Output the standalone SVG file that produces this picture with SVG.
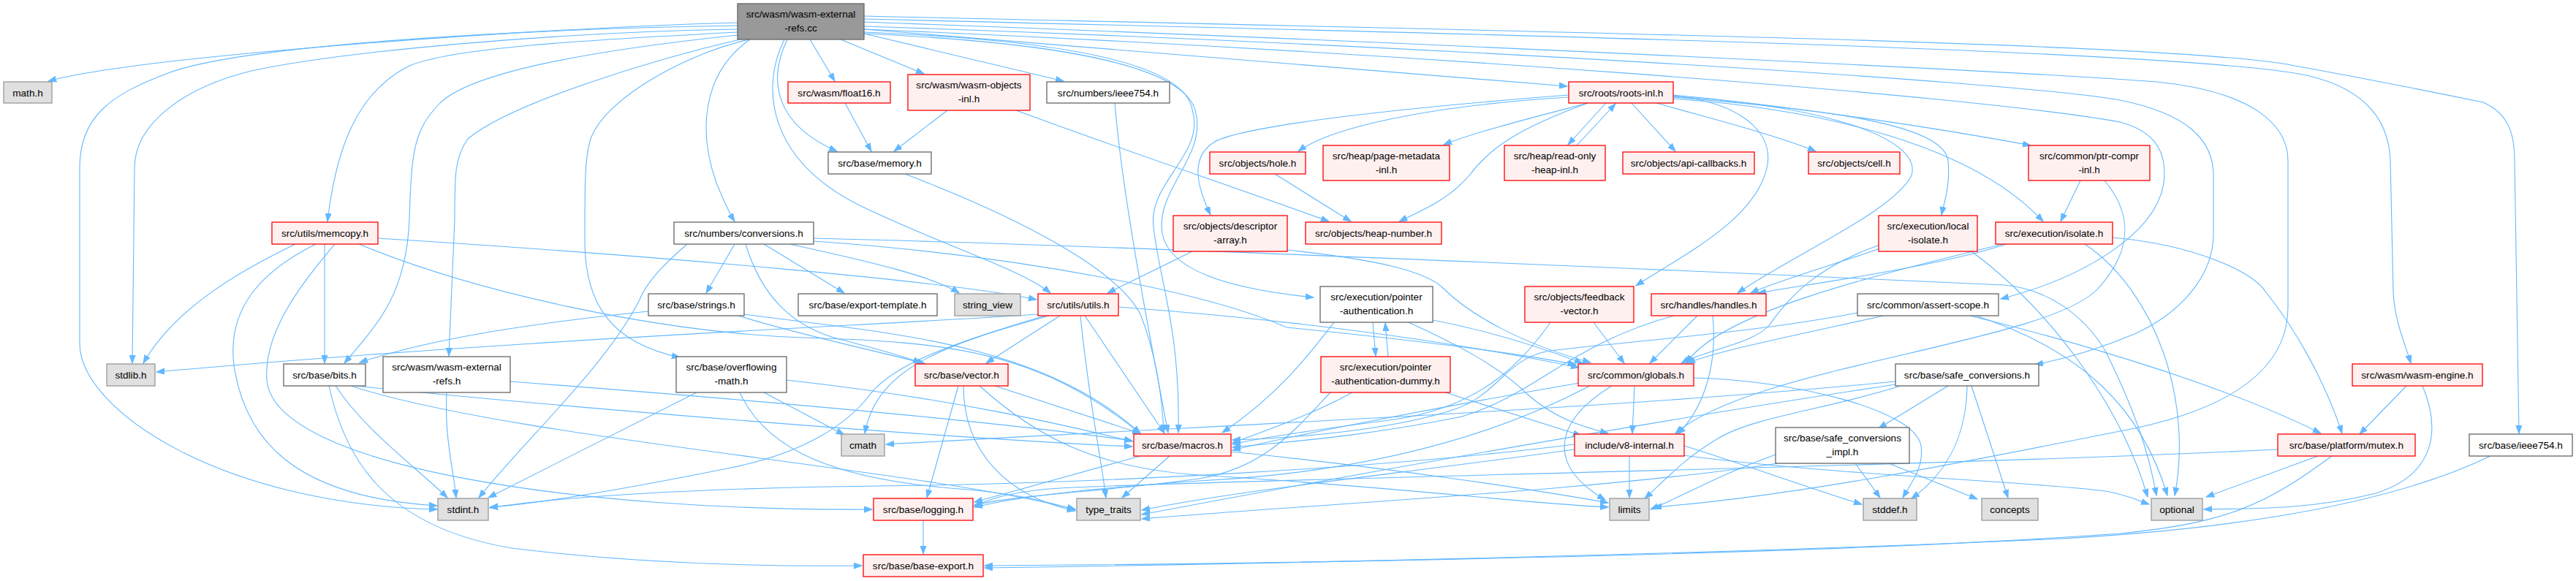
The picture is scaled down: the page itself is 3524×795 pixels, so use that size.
<svg xmlns="http://www.w3.org/2000/svg" width="3524" height="795" viewBox="0 0 3524 795">
<defs>
<marker id="ah" markerWidth="12" markerHeight="10" refX="11" refY="4.5" orient="auto" markerUnits="userSpaceOnUse"><path d="M0,0.5 L11,4.5 L0,8.5 z" fill="#63b8ff" stroke="#63b8ff" stroke-width="1"/></marker>
<style>
.e path{fill:none;stroke:#63b8ff;stroke-width:1.1;marker-end:url(#ah)}
rect{stroke-width:1.3}
rect.r{fill:#fff0f0;stroke:#ff0000}
rect.w{fill:#ffffff;stroke:#666666}
rect.g{fill:#e0e0e0;stroke:#999999}
rect.k{fill:#999999;stroke:#666666}
text{font-family:"Liberation Sans",Arial,sans-serif;font-size:13.6px;fill:#000000;text-anchor:middle}
</style>
</defs>
<rect x="0" y="0" width="3524" height="795" fill="#ffffff" stroke="none"/>
<g id="edges" class="e">
<path d="M1009,31 C760,37 200,75 66,111"/>
<path d="M1009,35 C700,40 330,62 230,100 C150,130 109,160 109,230 L109,470 C109,560 300,690 598,697"/>
<path d="M1009,40 C760,44 470,70 344,97 C250,120 184,170 184,230 L181,497"/>
<path d="M1009,44 C800,55 620,65 560,90 C490,125 460,200 448,303"/>
<path d="M1009,48 C800,70 640,100 600,143 C565,180 563,210 560,300 C556,400 520,440 471,497"/>
<path d="M1012,54 C900,80 700,140 640,190 C622,215 622,240 622,300 L614,487"/>
<path d="M1025,54 C950,70 830,130 808,190 C800,215 800,250 800,330 C800,420 840,470 930,489"/>
<path d="M1108,54 L1142,111"/>
<path d="M1077,54 C1050,110 1060,170 1145,207"/>
<path d="M1073,54 C1040,120 1050,220 1180,283 C1300,340 1400,370 1437,401"/>
<path d="M1150,54 L1264,101"/>
<path d="M1182,46 L1455,111"/>
<path d="M1026,54 C960,100 955,180 980,250 C992,280 1000,295 1005,303"/>
<path d="M1182,40 C1600,75 1950,100 2144,118"/>
<path d="M1182,44 C1450,55 1620,85 1631,150 C1650,210 1570,250 1578,310 C1585,380 1615,450 1612,592"/>
<path d="M1182,46 C1450,58 1625,90 1636,155 C1650,215 1580,260 1590,320 C1600,370 1680,395 1797,407"/>
<path d="M1182,36 C1900,60 2750,110 2900,137 C2990,155 3028,190 3028,240 L3028,320 C3028,380 2980,430 2920,457 C2870,478 2830,490 2784,499"/>
<path d="M1182,40 C1900,70 2700,130 2900,167 C2950,180 2965,210 2960,250 C2950,320 2850,380 2737,409"/>
<path d="M1182,30 C2000,60 2800,100 2950,112 C3080,125 3130,170 3130,220 L3130,420 C3130,500 3060,560 2900,590 C2700,630 2450,680 2262,694"/>
<path d="M1182,26 C2200,50 2950,70 3139,100 C3230,115 3268,160 3270,220 L3274,400 C3276,440 3290,470 3298,497"/>
<path d="M1182,22 C2200,45 3000,60 3139,90 C3250,110 3300,120 3397,140 C3430,155 3440,180 3440,220 L3446,593"/>
<path d="M2146,133 C1950,145 1820,175 1776,207"/>
<path d="M2172,141 C2100,160 2020,180 1975,198"/>
<path d="M2172,141 C2080,175 2040,200 2010,240 C1980,275 1940,290 1914,303"/>
<path d="M2197,141 L2145,198"/>
<path d="M2157,199 L2210,142"/>
<path d="M2232,141 L2292,207"/>
<path d="M2266,141 C2350,165 2430,185 2484,207"/>
<path d="M2289,130 C2450,145 2650,175 2778,199"/>
<path d="M2289,133 C2500,150 2660,170 2665,220 C2668,255 2660,275 2656,294"/>
<path d="M2289,135 C2500,150 2700,200 2795,303"/>
<path d="M2289,132 C2500,145 2630,190 2615,240 C2590,290 2450,350 2377,401"/>
<path d="M2289,131 C2380,140 2425,180 2418,225 C2405,300 2300,350 2238,391"/>
<path d="M2146,130 C1950,145 1700,170 1660,195 C1630,215 1635,250 1656,294"/>
<path d="M1744,238 L1848,303"/>
<path d="M1390,151 C1550,210 1700,260 1818,303"/>
<path d="M1296,151 L1223,207"/>
<path d="M1156,141 L1192,207"/>
<path d="M2846,247 L2819,303"/>
<path d="M2879,247 C2915,290 2920,340 2870,395 C2800,470 2400,500 2292,593"/>
<path d="M1631,344 L1515,401"/>
<path d="M1761,342 C1880,355 1950,370 1975,395 C2010,430 2080,470 2176,496"/>
<path d="M2572,340 C2500,365 2430,385 2395,401"/>
<path d="M2572,335 C2470,370 2440,420 2420,445 C2400,470 2330,480 2300,497"/>
<path d="M2697,344 C2800,420 2900,550 2938,680"/>
<path d="M2745,334 C2650,365 2480,388 2405,401"/>
<path d="M2740,334 C2550,380 2350,430 2307,497"/>
<path d="M2852,334 C2950,400 3000,550 2975,678"/>
<path d="M2890,325 C3000,335 3080,370 3100,400 C3140,450 3180,520 3204,593"/>
<path d="M2695,432 C2850,470 3050,530 3175,593"/>
<path d="M3292,528 L3228,594"/>
<path d="M3314,528 C3340,590 3330,650 3250,675 C3150,700 3060,695 3015,697"/>
<path d="M3171,624 L3018,680"/>
<path d="M3190,624 C3100,690 3050,715 2900,730 C2500,760 1700,772 1347,774"/>
<path d="M3116,615 C2600,640 1700,655 1450,668 C1380,672 1350,685 1333,692"/>
<path d="M3407,624 C3250,700 3000,728 2800,738 C2300,760 1700,772 1347,777"/>
<path d="M404,334 C330,370 240,420 196,497"/>
<path d="M444,334 L444,497"/>
<path d="M432,334 C360,370 310,420 320,500 C335,600 400,680 598,692"/>
<path d="M458,334 C420,380 360,450 365,520 C375,640 800,700 1193,697"/>
<path d="M491,334 C650,400 900,455 1100,462 C1300,468 1420,480 1560,593"/>
<path d="M517,326 C900,350 1300,385 1418,410"/>
<path d="M459,528 C500,590 570,640 612,681"/>
<path d="M450,528 C470,620 520,720 700,750 C900,775 1100,775 1179,774"/>
<path d="M480,528 C700,600 1250,640 1471,697"/>
<path d="M486,528 C800,560 1300,600 1549,611"/>
<path d="M611,537 C608,600 620,640 624,681"/>
<path d="M698,522 C1000,545 1350,575 1549,603"/>
<path d="M953,537 L668,681"/>
<path d="M1045,537 L1155,595"/>
<path d="M1012,537 C1050,620 1150,655 1300,668 C1400,675 1440,690 1471,697"/>
<path d="M1076,520 C1300,545 1450,580 1549,604"/>
<path d="M1005,334 L966,401"/>
<path d="M1045,334 L1155,401"/>
<path d="M1080,334 C1200,360 1280,380 1312,401"/>
<path d="M1020,334 C1040,400 1080,450 1160,467 C1200,478 1240,488 1260,497"/>
<path d="M940,334 C910,360 885,385 875,410 C830,500 720,600 655,681"/>
<path d="M1113,330 C1400,350 1650,400 1760,448 C1900,462 2060,480 2156,499"/>
<path d="M1113,326 C1500,335 2300,370 2741,390 C2800,395 2850,430 2880,480 C2920,560 2940,620 2950,678"/>
<path d="M887,426 C750,440 600,460 492,496"/>
<path d="M1010,432 C1100,460 1200,480 1266,498"/>
<path d="M1018,430 C1200,455 1420,465 1560,593"/>
<path d="M1420,430 C1200,445 700,465 214,509"/>
<path d="M1450,432 L1349,497"/>
<path d="M1478,432 C1490,550 1505,620 1513,681"/>
<path d="M1484,432 L1593,593"/>
<path d="M1435,432 C1300,470 1200,500 1183,593"/>
<path d="M1430,432 C1300,470 1220,500 1190,540 C1160,580 1100,620 1000,640 C850,670 730,690 670,694"/>
<path d="M1530,420 C1800,440 2000,470 2160,503"/>
<path d="M1311,528 L1268,681"/>
<path d="M1318,528 C1318,620 1380,680 1471,699"/>
<path d="M1361,528 L1560,593"/>
<path d="M1340,528 C1420,600 1500,640 1640,650 C1900,665 2100,690 2200,694"/>
<path d="M1560,624 L1333,687"/>
<path d="M1600,624 L1535,681"/>
<path d="M1684,618 C1900,640 2100,670 2200,688"/>
<path d="M1263,712 L1263,758"/>
<path d="M1878,441 L1882,487"/>
<path d="M1899,488 L1895,442"/>
<path d="M1927,441 C1990,470 2050,500 2090,540 C2130,575 2170,585 2200,593"/>
<path d="M1960,438 C2050,455 2120,480 2165,497"/>
<path d="M1825,441 C1795,480 1750,540 1672,592"/>
<path d="M1977,537 L2163,596"/>
<path d="M1850,537 C1800,565 1730,590 1686,606"/>
<path d="M1820,537 C1770,590 1730,640 1640,655 C1520,672 1400,676 1333,691"/>
<path d="M2180,441 L2222,497"/>
<path d="M2121,441 C2080,500 2020,560 1900,575 C1800,588 1720,600 1686,608"/>
<path d="M2322,432 L2257,497"/>
<path d="M2290,432 C2150,470 2100,540 2000,570 C1850,600 1750,605 1686,612"/>
<path d="M2343,432 C2350,500 2330,560 2295,594"/>
<path d="M2236,528 L2233,593"/>
<path d="M2205,528 C2120,580 2120,640 2196,684"/>
<path d="M2161,524 C1950,560 1750,600 1686,616"/>
<path d="M2175,528 C2000,620 1800,650 1640,658 C1500,668 1400,678 1333,694"/>
<path d="M2317,517 C2450,520 2620,560 2628,610 C2632,640 2615,660 2603,681"/>
<path d="M2229,624 L2229,681"/>
<path d="M2154,608 C1900,640 1500,662 1200,665 C950,668 760,680 670,695"/>
<path d="M2154,615 C1900,650 1700,670 1562,698"/>
<path d="M2304,610 C2400,640 2480,670 2547,690"/>
<path d="M2295,622 C2500,650 2800,660 2880,672 C2910,677 2925,685 2940,690"/>
<path d="M2665,528 L2570,586"/>
<path d="M2691,528 C2690,600 2660,650 2615,682"/>
<path d="M2697,528 L2747,681"/>
<path d="M2593,522 C2200,560 1700,580 1212,608"/>
<path d="M2600,528 C2500,560 2400,570 2350,600 C2300,630 2275,660 2250,682"/>
<path d="M2600,525 C2300,570 1900,640 1562,704"/>
<path d="M2538,634 L2572,681"/>
<path d="M2584,634 L2705,683"/>
<path d="M2429,622 C2350,650 2300,680 2258,697"/>
<path d="M2432,634 C2200,670 1800,690 1562,710"/>
<path d="M2577,432 C2450,460 2350,480 2308,497"/>
<path d="M2541,428 C2400,455 2250,465 2120,480 C2060,490 2050,540 1990,560 C1900,590 1760,600 1686,602"/>
<path d="M2703,432 C2850,480 2930,560 2965,678"/>
<path d="M1238,238 C1400,300 1530,370 1560,430 C1580,480 1590,540 1592,592"/>
<path d="M1525,141 C1535,260 1565,420 1598,592"/>
</g>
<g id="n_root"><rect class="k" x="1009" y="5" width="173" height="49"/><text x="1095.5" y="23.5">src/wasm/wasm-external</text><text x="1095.5" y="42.5">-refs.cc</text></g>
<g id="n_math"><rect class="g" x="5" y="112" width="66" height="29"/><text x="38" y="131.5">math.h</text></g>
<g id="n_memcopy"><rect class="r" x="372" y="304" width="145" height="30"/><text x="444.5" y="323.5">src/utils/memcopy.h</text></g>
<g id="n_float16"><rect class="r" x="1078" y="112" width="140" height="29"/><text x="1148" y="131.5">src/wasm/float16.h</text></g>
<g id="n_wobj"><rect class="r" x="1242" y="102" width="167" height="49"/><text x="1325.5" y="120.5">src/wasm/wasm-objects</text><text x="1325.5" y="139.5">-inl.h</text></g>
<g id="n_nieee"><rect class="w" x="1432" y="112" width="168" height="29"/><text x="1516" y="131.5">src/numbers/ieee754.h</text></g>
<g id="n_roots"><rect class="r" x="2146" y="112" width="143" height="29"/><text x="2217.5" y="131.5">src/roots/roots-inl.h</text></g>
<g id="n_memory"><rect class="w" x="1133" y="208" width="141" height="30"/><text x="1203.5" y="227.5">src/base/memory.h</text></g>
<g id="n_hole"><rect class="r" x="1655" y="208" width="131" height="30"/><text x="1720.5" y="227.5">src/objects/hole.h</text></g>
<g id="n_pagemeta"><rect class="r" x="1810" y="199" width="173" height="48"/><text x="1896.5" y="217.5">src/heap/page-metadata</text><text x="1896.5" y="236.5">-inl.h</text></g>
<g id="n_rohi"><rect class="r" x="2058" y="199" width="138" height="48"/><text x="2127" y="217.5">src/heap/read-only</text><text x="2127" y="236.5">-heap-inl.h</text></g>
<g id="n_apicb"><rect class="r" x="2220" y="208" width="180" height="30"/><text x="2310" y="227.5">src/objects/api-callbacks.h</text></g>
<g id="n_cell"><rect class="r" x="2474" y="208" width="125" height="30"/><text x="2536.5" y="227.5">src/objects/cell.h</text></g>
<g id="n_ptrc"><rect class="r" x="2775" y="199" width="166" height="48"/><text x="2858" y="217.5">src/common/ptr-compr</text><text x="2858" y="236.5">-inl.h</text></g>
<g id="n_conv"><rect class="w" x="922" y="304" width="191" height="30"/><text x="1017.5" y="323.5">src/numbers/conversions.h</text></g>
<g id="n_desc"><rect class="r" x="1605" y="295" width="156" height="49"/><text x="1683" y="313.5">src/objects/descriptor</text><text x="1683" y="332.5">-array.h</text></g>
<g id="n_heapnum"><rect class="r" x="1786" y="304" width="186" height="30"/><text x="1879" y="323.5">src/objects/heap-number.h</text></g>
<g id="n_liso"><rect class="r" x="2570" y="295" width="135" height="49"/><text x="2637.5" y="313.5">src/execution/local</text><text x="2637.5" y="332.5">-isolate.h</text></g>
<g id="n_iso"><rect class="r" x="2730" y="304" width="160" height="30"/><text x="2810" y="323.5">src/execution/isolate.h</text></g>
<g id="n_strings"><rect class="w" x="887" y="402" width="131" height="30"/><text x="952.5" y="421.5">src/base/strings.h</text></g>
<g id="n_exptpl"><rect class="w" x="1092" y="402" width="190" height="30"/><text x="1187" y="421.5">src/base/export-template.h</text></g>
<g id="n_sview"><rect class="g" x="1306" y="402" width="90" height="30"/><text x="1351" y="421.5">string_view</text></g>
<g id="n_utils"><rect class="r" x="1420" y="402" width="110" height="30"/><text x="1475" y="421.5">src/utils/utils.h</text></g>
<g id="n_pauth"><rect class="w" x="1806" y="392" width="154" height="49"/><text x="1883" y="410.5">src/execution/pointer</text><text x="1883" y="429.5">-authentication.h</text></g>
<g id="n_fvec"><rect class="r" x="2086" y="392" width="149" height="49"/><text x="2160.5" y="410.5">src/objects/feedback</text><text x="2160.5" y="429.5">-vector.h</text></g>
<g id="n_handles"><rect class="r" x="2259" y="402" width="157" height="30"/><text x="2337.5" y="421.5">src/handles/handles.h</text></g>
<g id="n_assert"><rect class="w" x="2541" y="402" width="193" height="30"/><text x="2637.5" y="421.5">src/common/assert-scope.h</text></g>
<g id="n_stdlib"><rect class="g" x="146" y="498" width="66" height="30"/><text x="179" y="517.5">stdlib.h</text></g>
<g id="n_bits"><rect class="w" x="388" y="498" width="112" height="30"/><text x="444" y="517.5">src/base/bits.h</text></g>
<g id="n_wexth"><rect class="w" x="524" y="488" width="174" height="49"/><text x="611" y="506.5">src/wasm/wasm-external</text><text x="611" y="525.5">-refs.h</text></g>
<g id="n_ovf"><rect class="w" x="925" y="488" width="151" height="49"/><text x="1000.5" y="506.5">src/base/overflowing</text><text x="1000.5" y="525.5">-math.h</text></g>
<g id="n_vector"><rect class="r" x="1252" y="498" width="127" height="30"/><text x="1315.5" y="517.5">src/base/vector.h</text></g>
<g id="n_pdummy"><rect class="r" x="1807" y="488" width="177" height="49"/><text x="1895.5" y="506.5">src/execution/pointer</text><text x="1895.5" y="525.5">-authentication-dummy.h</text></g>
<g id="n_globals"><rect class="r" x="2159" y="498" width="158" height="30"/><text x="2238" y="517.5">src/common/globals.h</text></g>
<g id="n_sc"><rect class="w" x="2593" y="498" width="196" height="30"/><text x="2691" y="517.5">src/base/safe_conversions.h</text></g>
<g id="n_wengine"><rect class="r" x="3218" y="498" width="178" height="30"/><text x="3307" y="517.5">src/wasm/wasm-engine.h</text></g>
<g id="n_cmath"><rect class="g" x="1151" y="594" width="59" height="30"/><text x="1180.5" y="613.5">cmath</text></g>
<g id="n_macros"><rect class="r" x="1551" y="594" width="133" height="30"/><text x="1617.5" y="613.5">src/base/macros.h</text></g>
<g id="n_v8i"><rect class="r" x="2154" y="594" width="150" height="30"/><text x="2229" y="613.5">include/v8-internal.h</text></g>
<g id="n_impl"><rect class="w" x="2429" y="585" width="183" height="49"/><text x="2520.5" y="603.5">src/base/safe_conversions</text><text x="2520.5" y="622.5">_impl.h</text></g>
<g id="n_mutex"><rect class="r" x="3116" y="594" width="188" height="30"/><text x="3210" y="613.5">src/base/platform/mutex.h</text></g>
<g id="n_bieee"><rect class="w" x="3378" y="594" width="141" height="30"/><text x="3448.5" y="613.5">src/base/ieee754.h</text></g>
<g id="n_stdint"><rect class="g" x="599" y="682" width="69" height="30"/><text x="633.5" y="701.5">stdint.h</text></g>
<g id="n_logging"><rect class="r" x="1195" y="682" width="136" height="30"/><text x="1263" y="701.5">src/base/logging.h</text></g>
<g id="n_ttraits"><rect class="g" x="1473" y="682" width="87" height="30"/><text x="1516.5" y="701.5">type_traits</text></g>
<g id="n_limits"><rect class="g" x="2202" y="682" width="54" height="30"/><text x="2229" y="701.5">limits</text></g>
<g id="n_stddef"><rect class="g" x="2549" y="682" width="73" height="30"/><text x="2585.5" y="701.5">stddef.h</text></g>
<g id="n_concepts"><rect class="g" x="2711" y="682" width="77" height="30"/><text x="2749.5" y="701.5">concepts</text></g>
<g id="n_optional"><rect class="g" x="2943" y="682" width="70" height="30"/><text x="2978" y="701.5">optional</text></g>
<g id="n_bexport"><rect class="r" x="1181" y="759" width="164" height="30"/><text x="1263" y="778.5">src/base/base-export.h</text></g>
</svg>
